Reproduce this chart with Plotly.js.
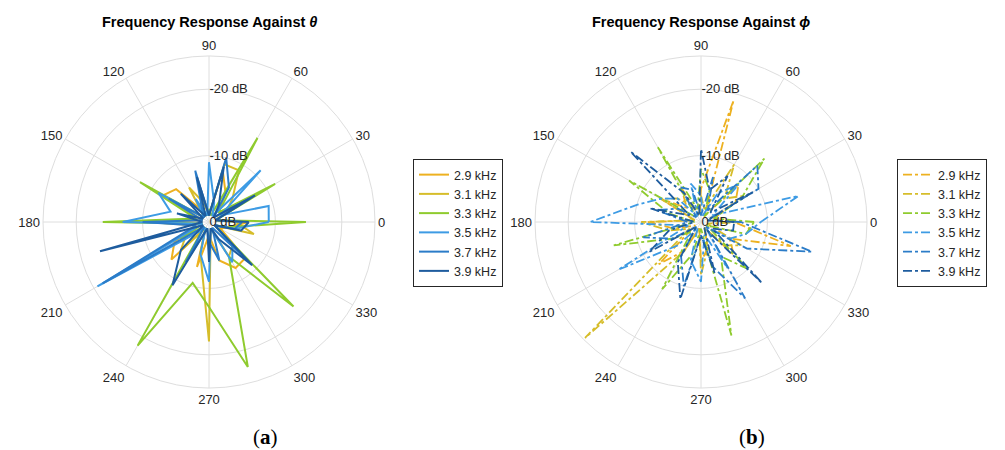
<!DOCTYPE html>
<html>
<head>
<meta charset="utf-8">
<script src="https://cdn.plot.ly/plotly-3.0.1.min.js"></script>
<style>html,body{margin:0;padding:0;background:#fff;}#chart{width:1005px;height:450px;}</style>
</head>
<body>
<div id="chart"></div>
<script>
// Angles (degrees) of the measurement points
const angles = [0,15,30,45,60,75,90,105,120,135,150,165,180,195,210,225,240,255,270,285,300,315,330,345];
const seriesNames = ['2.9 kHz','3.1 kHz','3.3 kHz','3.5 kHz','3.7 kHz','3.9 kHz'];
const seriesColors = ['#EDB120','#D6BD2A','#8FCB2E','#3D9BE4','#2B7CC8','#1E5C9E'];

// (a) response against theta, attenuation magnitude in dB
const theta29 = [6,1,7,2,5,8,1,6,2,7,8,1,9,2,6,8,1,7,2,6,8,7.7,2,3];
const theta31 = [4,1,3,5,9,9,1,3,6,1,5,2,7,1,4,6,1,5,18,1,6,5,1,7];
const theta33 = [14.6,1,11.5,2,14.6,1,2,1,3,1,12,2,16,1,5,1,21.5,9.5,12.8,22.6,6,18,1,3];
const theta35 = [9,9.3,2,11,1,3,9,1,4,1,8.8,6,13,1,19.4,2,1,5,9,1,7,5,1,4];
const theta37 = [5,1,7,1,6,10,1,8,2,1,7,1,10,2,18.5,1,7,1,3,6,1,8,1,4];
const theta39 = [6,1,8,1,3,8.6,1,7,1,6,1,5,1,17,1,6,11,1,6,1,3,9.2,1,5];

// (b) response against phi
const phi29 = [5,2,6,8,1,19,5,1,6,3,7,1,8,4,1,9,5,1,6,4,1,7,5,14];
const phi31 = [6,1,8,5,10,2,4,1,3,5,7,1,9,5,2,24.7,5,1,8,4,1,5,7,1];
const phi33 = [8,2,7,13.5,1,5,8,2,13,1,12.5,5,1,13.6,5,2,11.7,5,1,17.7,6,10,1,7];
const phi35 = [9,15.2,2,8,5,1,4,6,1,5,7,10,16.7,2,14.4,5,1,6,9,2,8,1,5,7];
const phi37 = [6,1,10,12,2,7,1,5,6,1,4,7,2,9,5,1,6,10,2,7,13.3,1,8,17.3];
const phi39 = [5,1,9,2,8,5,11,1,5,15,2,8,1,5,9,1,7,12,2,8,1,13,2,5];

const rTicks = [0,10,20];
const rTickText = ['0 dB','-10 dB','-20 dB'];
const angTicks = [0,30,60,90,120,150,180,210,240,270,300,330];

const thetaSets = [theta29,theta31,theta33,theta35,theta37,theta39];
const phiSets = [phi29,phi31,phi33,phi35,phi37,phi39];

const close = a => a.concat([a[0]]);
const traces = [];
thetaSets.forEach((r,i)=>{
  traces.push({type:'scatterpolar',mode:'lines',r:close(r),theta:close(angles),name:seriesNames[i],
    subplot:'polar',legend:'legend',line:{color:seriesColors[i],width:2},hoverinfo:'skip'});
});
phiSets.forEach((r,i)=>{
  traces.push({type:'scatterpolar',mode:'lines',r:close(r),theta:close(angles),name:seriesNames[i],
    subplot:'polar2',legend:'legend2',line:{color:seriesColors[i],width:1.8,dash:'dashdot'},hoverinfo:'skip'});
});

const font = 'Liberation Sans, Arial, Helvetica, sans-serif';
const grid = '#dedede';
function polar(dx){
  return {
    domain:{x:dx,y:[1-388/450,1-56/450]},
    bgcolor:'#ffffff',
    radialaxis:{range:[0,25],tickvals:rTicks,ticktext:rTickText,angle:90,tickangle:90,side:'clockwise',
      showline:false,ticks:'',gridcolor:grid,gridwidth:1,tickfont:{family:font,size:13,color:'#262626'}},
    angularaxis:{rotation:0,direction:'counterclockwise',tickvals:angTicks,ticktext:angTicks.map(String),
      ticks:'',linecolor:grid,linewidth:1,gridcolor:grid,gridwidth:1,tickfont:{family:font,size:13,color:'#262626'}}
  };
}
const legendBase = {bordercolor:'#262626',borderwidth:1,bgcolor:'#ffffff',font:{family:font,size:12.5,color:'#262626'},
  xanchor:'left',yanchor:'middle',tracegroupgap:0};

const layout = {
  width:1005,height:450,margin:{l:0,r:0,t:0,b:0},paper_bgcolor:'#ffffff',
  showlegend:true,
  polar:polar([43/1005,375/1005]),
  polar2:polar([535/1005,867/1005]),
  legend:Object.assign({x:413/1005,y:1-223/450},legendBase),
  legend2:Object.assign({x:897/1005,y:1-223/450},legendBase),
  annotations:[
    {text:'<b>Frequency Response Against <i>θ</i></b>',x:209/1005,y:1-22/450,xref:'paper',yref:'paper',showarrow:false,
      font:{family:font,size:14.5,color:'#000'},xanchor:'center',yanchor:'middle'},
    {text:'<b>Frequency Response Against <i>ϕ</i></b>',x:701/1005,y:1-22/450,xref:'paper',yref:'paper',showarrow:false,
      font:{family:font,size:14.5,color:'#000'},xanchor:'center',yanchor:'middle'},
    {text:'(<b>a</b>)',x:265/1005,y:1-437/450,xref:'paper',yref:'paper',showarrow:false,
      font:{family:'Liberation Serif, DejaVu Serif, serif',size:21,color:'#000'},xanchor:'center',yanchor:'middle'},
    {text:'(<b>b</b>)',x:752/1005,y:1-437/450,xref:'paper',yref:'paper',showarrow:false,
      font:{family:'Liberation Serif, DejaVu Serif, serif',size:21,color:'#000'},xanchor:'center',yanchor:'middle'}
  ]
};
Plotly.newPlot('chart',traces,layout,{displayModeBar:false,staticPlot:true});
</script>
</body>
</html>
